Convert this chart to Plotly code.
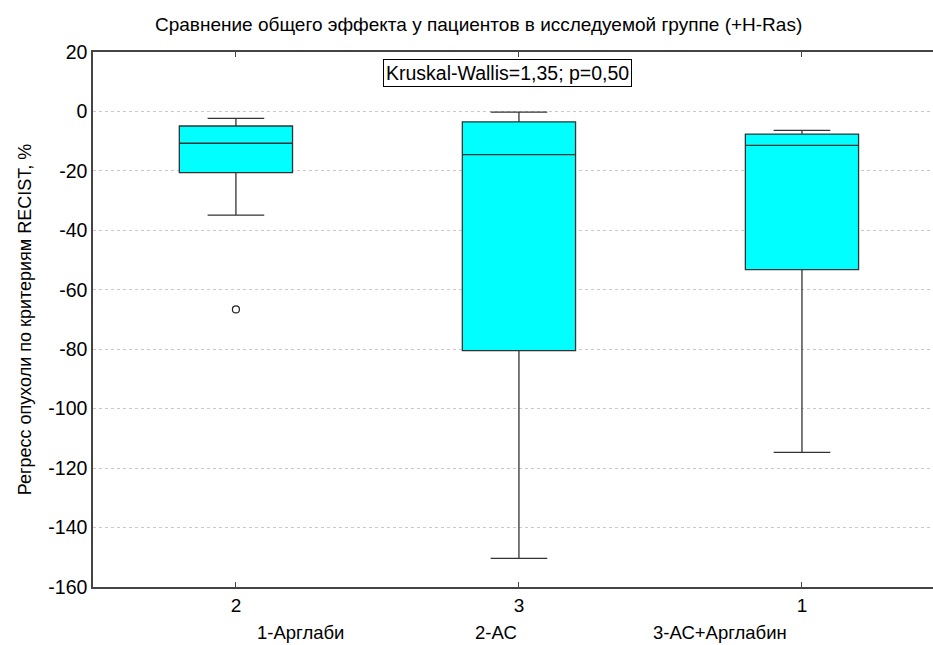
import plotly.graph_objects as go

categories = ["2", "3", "1"]
q1 = [-20.6, -80.5, -53.2]
median = [-10.7, -14.5, -11.4]
q3 = [-4.9, -3.5, -7.6]
lowerfence = [-34.9, -150.4, -114.7]
upperfence = [-2.3, -0.2, -6.4]
outlier_x = ["2"]
outlier_y = [-66.6]

y_tickvals = [20, 0, -20, -40, -60, -80, -100, -120, -140, -160]
y_ticktext = ["20", "0", "-20", "-40", "-60", "-80", "-100", "-120", "-140", "-160"]

title_text = "Сравнение общего эффекта у пациентов в исследуемой группе (+H-Ras)"
y_title = "Регресс опухоли по критериям RECIST, %"
stat_text = "Kruskal-Wallis=1,35; p=0,50"
legend_labels = ["1-Арглаби", "2-АС", "3-АС+Арглабин"]
legend_x = [0.2476, 0.4798, 0.7464]

FONT = "Liberation Sans, Arial, sans-serif"

fig = go.Figure()
fig.add_trace(go.Box(
    x=categories, q1=q1, median=median, q3=q3,
    lowerfence=lowerfence, upperfence=upperfence,
    fillcolor="#00FFFF", line=dict(color="#333333", width=1.3),
    width=0.4, whiskerwidth=0.5, boxpoints=False, showlegend=False,
    hoverinfo="skip",
))
fig.add_trace(go.Scatter(
    x=outlier_x, y=outlier_y, mode="markers",
    marker=dict(symbol="circle-open", size=7, color="#222222", line=dict(width=1.2)),
    showlegend=False, hoverinfo="skip",
))

annotations = [
    dict(text=stat_text, x=0.4935, y=0.9607, xref="paper", yref="paper",
         xanchor="center", yanchor="middle",
         showarrow=False, font=dict(family=FONT, size=19.5, color="#000"),
         bordercolor="#000", borderwidth=1, borderpad=2, bgcolor="white"),
]
for lab, lx in zip(legend_labels, legend_x):
    annotations.append(dict(text=lab, x=lx, y=-0.085, xref="paper", yref="paper",
                            xanchor="center", yanchor="middle",
                            showarrow=False, font=dict(family=FONT, size=18.5, color="#000")))

fig.update_layout(
    width=933, height=645,
    margin=dict(l=93, r=0, t=52, b=58),
    paper_bgcolor="white", plot_bgcolor="white",
    title=dict(text=title_text, x=0.513, xanchor="center", y=0.962, yanchor="middle",
               font=dict(family=FONT, size=19, color="#000")),
    font=dict(family=FONT, color="#000"),
    annotations=annotations,
    xaxis=dict(
        type="category", range=[-0.505, 2.463],
        showline=True, linecolor="#444", linewidth=1.5, mirror="ticks",
        ticks="inside", ticklen=5, tickcolor="#444", showgrid=False,
        tickfont=dict(family=FONT, size=19, color="#000"),
    ),
    yaxis=dict(
        range=[-160, 20], tickmode="array", tickvals=y_tickvals, ticktext=y_ticktext,
        showline=True, linecolor="#444", linewidth=1.5, mirror=False,
        ticks="", showgrid=True, gridcolor="#c8c8c8", griddash="dot", gridwidth=1,
        zeroline=False,
        tickfont=dict(family=FONT, size=19.5, color="#000"),
        title=dict(text=y_title, standoff=12, font=dict(family=FONT, size=18, color="#000")),
    ),
)

fig.write_html("out.html")
